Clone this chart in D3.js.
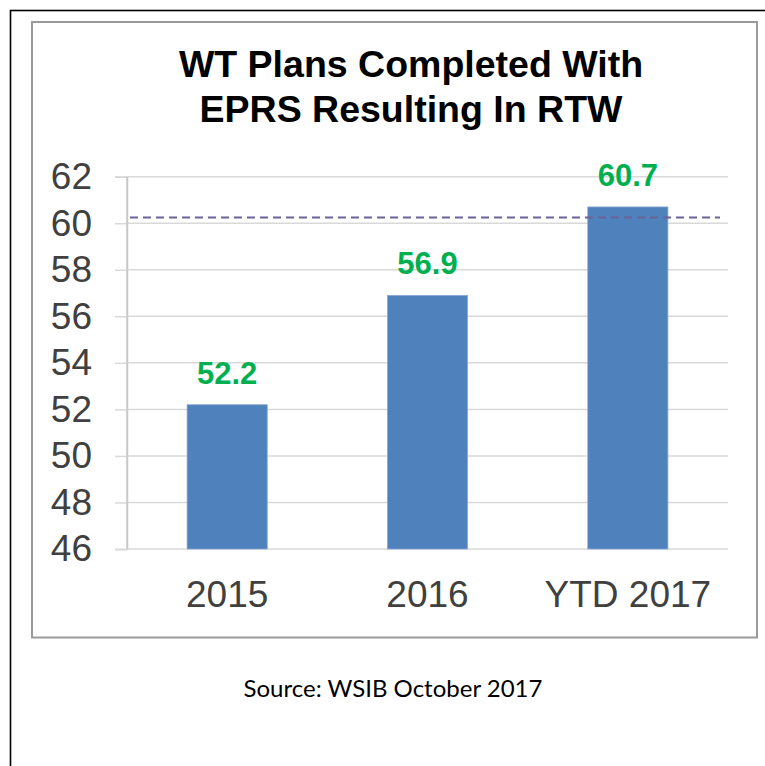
<!DOCTYPE html>
<html>
<head>
<meta charset="utf-8">
<script src="https://cdn.jsdelivr.net/npm/d3@7"></script>
<style>
  html, body { margin: 0; padding: 0; background: #fff; }
  svg { display: block; }
</style>
</head>
<body>
<div id="chart"></div>
<script>
// chart data
var categories = ["2015", "2016", "YTD 2017"];
var values = [52.2, 56.9, 60.7];
var targetValue = 60.25;
var yTicks = [46, 48, 50, 52, 54, 56, 58, 60, 62];
var titleLines = ["WT Plans Completed With", "EPRS Resulting In RTW"];
var sourceText = "Source: WSIB October 2017";

var width = 765, height = 766;

var plot = ({left: 127, right: 728, top: 176.7, bottom: 549});

var svg = d3.select("#chart").append("svg")
  .attr("width", width)
  .attr("height", height);

// outer black frame (runs off right and bottom)
svg.append("rect")
  .attr("x", 10.5).attr("y", 10.5)
  .attr("width", 800).attr("height", 800)
  .attr("fill", "none")
  .attr("stroke", "#000")
  .attr("stroke-width", 1.6);

// chart area frame
svg.append("rect")
  .attr("x", 32).attr("y", 22)
  .attr("width", 725).attr("height", 615.5)
  .attr("fill", "#fff")
  .attr("stroke", "#9a9a9a")
  .attr("stroke-width", 2);

var x = d3.scaleBand()
  .domain(categories)
  .range([plot.left, plot.right])
  .paddingInner(0.6)
  .paddingOuter(0.3);

var y = d3.scaleLinear()
  .domain([d3.min(yTicks), d3.max(yTicks)])
  .range([plot.bottom, plot.top]);

// title
svg.append("text")
  .attr("x", 411)
  .attr("y", 77)
  .attr("text-anchor", "middle")
  .attr("font-family", "'Liberation Sans', Arial, sans-serif")
  .attr("font-weight", "bold")
  .attr("font-size", 37.5)
  .attr("fill", "#000")
  .selectAll("tspan")
  .data(titleLines)
  .join("tspan")
    .attr("x", 411)
    .attr("dy", (d, i) => i == 0 ? 0 : 45)
    .text(d => d);

// gridlines + y axis
var yAxis = svg.append("g")
  .attr("transform", `translate(${plot.left},0)`)
  .call(d3.axisLeft(y).tickValues(yTicks).tickSize(12).tickPadding(23).tickFormat(d3.format("d")));

yAxis.select(".domain").attr("stroke", "#c8c8c8").attr("stroke-width", 1.5);
yAxis.selectAll(".tick line").attr("stroke", "#d9d9d9").attr("stroke-width", 1.5);
yAxis.selectAll(".tick text")
  .attr("font-family", "'Liberation Sans', Arial, sans-serif")
  .attr("font-size", 37)
  .attr("fill", "#404040");

svg.append("g")
  .selectAll("line")
  .data(yTicks)
  .join("line")
    .attr("x1", plot.left)
    .attr("x2", plot.right)
    .attr("y1", d => y(d))
    .attr("y2", d => y(d))
    .attr("stroke", "#d9d9d9")
    .attr("stroke-width", 1.5);

// re-draw the axis line above the gridlines
svg.append("line")
  .attr("x1", plot.left).attr("x2", plot.left)
  .attr("y1", plot.top).attr("y2", plot.bottom)
  .attr("stroke", "#c8c8c8")
  .attr("stroke-width", 1.5);

// bars
svg.append("g")
  .selectAll("rect")
  .data(values)
  .join("rect")
    .attr("x", (d, i) => x(categories[i]))
    .attr("y", d => y(d))
    .attr("width", x.bandwidth())
    .attr("height", d => y(d3.min(yTicks)) - y(d))
    .attr("fill", "#4f81bd")
    .attr("stroke", "#8aa8d2")
    .attr("stroke-width", 0.8);

// target dashed line
svg.append("line")
  .attr("x1", plot.left + 3)
  .attr("x2", plot.right - 8)
  .attr("y1", y(targetValue))
  .attr("y2", y(targetValue))
  .attr("stroke", "#6b6395")
  .attr("stroke-width", 2)
  .attr("stroke-dasharray", "8,5");

// value labels
svg.append("g")
  .selectAll("text")
  .data(values)
  .join("text")
    .attr("x", (d, i) => x(categories[i]) + x.bandwidth() / 2)
    .attr("y", d => y(d) - 21)
    .attr("text-anchor", "middle")
    .attr("font-family", "'Liberation Sans', Arial, sans-serif")
    .attr("font-weight", "bold")
    .attr("font-size", 31)
    .attr("fill", "#00b050")
    .text(d => d3.format(".1f")(d));

// category labels
svg.append("g")
  .selectAll("text")
  .data(categories)
  .join("text")
    .attr("x", d => x(d) + x.bandwidth() / 2)
    .attr("y", 607)
    .attr("text-anchor", "middle")
    .attr("font-family", "'Liberation Sans', Arial, sans-serif")
    .attr("font-size", 37)
    .attr("fill", "#404040")
    .text(d => d);

// source note
svg.append("text")
  .attr("x", 393)
  .attr("y", 697)
  .attr("text-anchor", "middle")
  .attr("font-family", "Lato, 'Open Sans', sans-serif")
  .attr("font-size", 24)
  .attr("fill", "#000")
  .text(sourceText);
</script>
</body>
</html>
